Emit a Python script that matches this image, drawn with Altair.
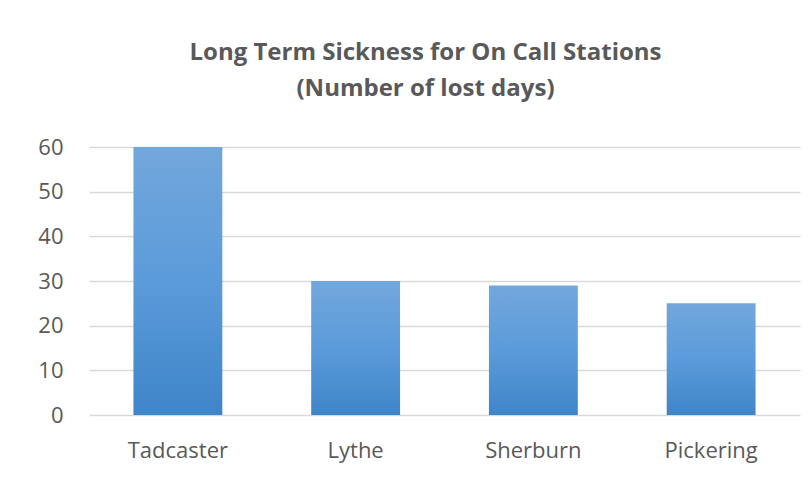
import altair as alt
import pandas as pd

stations = ["Tadcaster", "Lythe", "Sherburn", "Pickering"]
lost_days = [60, 30, 29, 25]
y_ticks = [0, 10, 20, 30, 40, 50, 60]
title_lines = ["Long Term Sickness  for On Call Stations", "(Number of lost days)"]

df = pd.DataFrame({"station": stations, "days": lost_days})

FONT = "Open Sans"
GREY = "#595959"

bars = alt.Chart(df).mark_bar(
    color=alt.Gradient(
        gradient="linear",
        stops=[alt.GradientStop(color="#72A7DC", offset=0),
               alt.GradientStop(color="#5B9BDA", offset=0.5),
               alt.GradientStop(color="#3F85C9", offset=1)],
        x1=0, x2=0, y1=0, y2=1,
    )
).encode(
    x=alt.X("station:N", sort=stations, title=None,
            scale=alt.Scale(paddingInner=0.5, paddingOuter=0.25),
            axis=alt.Axis(labelAngle=0, labelFont=FONT, labelFontSize=22,
                          labelColor=GREY, labelPadding=25, ticks=False,
                          domain=False, grid=False)),
    y=alt.Y("days:Q", title=None,
            scale=alt.Scale(domain=[0, 60], nice=False),
            axis=alt.Axis(values=y_ticks, labelFont=FONT, labelFontSize=22,
                          labelColor=GREY, labelPadding=26, ticks=False,
                          domain=False, grid=True, gridColor="#D9D9D9",
                          gridWidth=1.5)),
)

chart = bars.properties(
    width=711,
    height=268,
    background="white",
    autosize=alt.AutoSizeParams(type="none"),
    padding={"left": 81, "top": 139, "right": 3, "bottom": 58},
    title=alt.TitleParams(
        text=title_lines,
        font=FONT, fontSize=24, fontWeight="bold", color=GREY,
        anchor="middle", dx=-19, offset=35, lineHeight=36,
    ),
).configure_view(stroke=None, strokeWidth=0)

chart.save("out.html", embed_options={"renderer": "svg", "actions": False})
